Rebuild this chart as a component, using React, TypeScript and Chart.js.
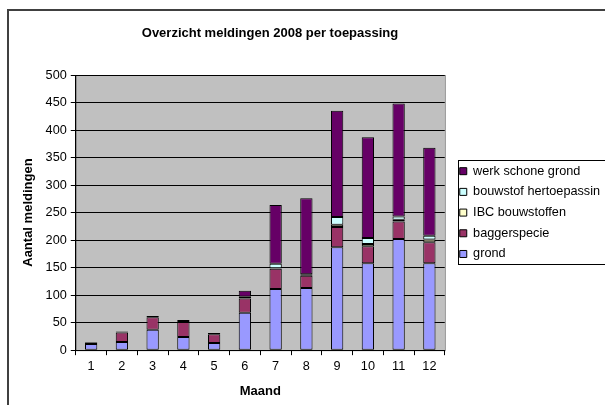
import React, { useEffect, useRef } from "react";
import { Chart, registerables } from "chart.js";

Chart.register(...registerables);

const months = ["1", "2", "3", "4", "5", "6", "7", "8", "9", "10", "11", "12"];
const grond = [11, 15, 37, 24, 13, 68, 111, 113, 187, 158, 202, 158];
const baggerspecie = [3, 17, 23, 27, 16, 26, 37, 22, 37, 31, 32, 38];
const ibcBouwstoffen = [0, 0, 0, 0, 0, 0, 1, 0, 4, 4, 3, 5];
const bouwstofHertoepassing = [0, 0, 0, 0, 0, 3, 8, 3, 14, 11, 6, 7];
const werkSchoneGrond = [1, 2, 2, 4, 2, 11, 107, 138, 193, 183, 205, 160];
const chartTitle = "Overzicht meldingen 2008 per toepassing";

const FONT = "'Liberation Sans', Arial, sans-serif";

const framePlugin = {
  id: "frame",
  afterLayout(chart: any) {
    const lg = chart.legend;
    if (lg) {
      lg.left += 7;
      lg.right = 600;
      lg.width = lg.right - lg.left;
    }
  },
  beforeDraw(chart: any) {
    const { ctx, chartArea } = chart;
    ctx.save();
    ctx.fillStyle = "#ffffff";
    ctx.fillRect(0, 0, chart.width, chart.height);
    ctx.fillStyle = "#C0C0C0";
    ctx.fillRect(chartArea.left, chartArea.top, chartArea.right - chartArea.left, chartArea.bottom - chartArea.top);
    ctx.strokeStyle = "#808080";
    ctx.lineWidth = 1;
    ctx.strokeRect(chartArea.left + 0.5, chartArea.top + 0.5, chartArea.right - chartArea.left, chartArea.bottom - chartArea.top);
    ctx.strokeStyle = "#404040";
    ctx.lineWidth = 2;
    ctx.beginPath();
    ctx.moveTo(8, chart.height + 5);
    ctx.lineTo(8, 10);
    ctx.lineTo(chart.width + 5, 10);
    ctx.stroke();
    ctx.restore();
  },
  afterDraw(chart: any) {
    const { ctx } = chart;
    ctx.save();
    ctx.fillStyle = "#000000";
    ctx.font = "bold 13px " + FONT;
    ctx.textAlign = "center";
    ctx.textBaseline = "middle";
    ctx.fillText(chartTitle, 270, 33);
    const lg = chart.legend;
    if (lg && lg.legendHitBoxes && lg.legendHitBoxes.length) {
      const boxes = lg.legendHitBoxes;
      const first = boxes[0];
      const last = boxes[boxes.length - 1];
      const l = Math.round(first.left - 2);
      const t = Math.round(first.top + first.height / 2 - 11);
      const b = Math.round(last.top + last.height / 2 + 10);
      ctx.strokeStyle = "#000000";
      ctx.lineWidth = 1;
      ctx.strokeRect(l + 0.5, t + 0.5, chart.width - l + 5, b - t);
    }
    ctx.restore();
  },
};

export default function App() {
  const ref = useRef<HTMLCanvasElement>(null);
  useEffect(() => {
    if (!ref.current) return;
    const mk = (label: string, data: number[], color: string) => ({
      label,
      data,
      backgroundColor: color,
      borderColor: "#000000",
      borderWidth: 1,
      borderSkipped: false,
      barPercentage: 0.4,
      categoryPercentage: 1,
    });
    const chart = new Chart(ref.current, {
      type: "bar",
      data: {
        labels: months,
        datasets: [
          mk("grond", grond, "#9999FF"),
          mk("baggerspecie", baggerspecie, "#993366"),
          mk("IBC bouwstoffen", ibcBouwstoffen, "#FFFFCC"),
          mk("bouwstof hertoepassing", bouwstofHertoepassing, "#CCFFFF"),
          mk("werk schone grond", werkSchoneGrond, "#660066"),
        ] as any,
      },
      options: {
        animation: false,
        responsive: false,
        layout: { padding: { left: 21, right: 19, top: 75, bottom: 6 } },
        plugins: {
          title: { display: false },
          legend: {
            position: "right",
            fullSize: false,
            reverse: true,
            labels: {
              color: "#000000",
              font: { family: FONT, size: 12.7 },
              boxWidth: 7,
              boxHeight: 7,
              padding: 8,
            },
          },
          tooltip: { enabled: false },
        },
        scales: {
          x: {
            stacked: true,
            grid: { display: true, drawOnChartArea: false, color: "#000000", tickLength: 5, offset: true },
            border: { color: "#000000" },
            ticks: { color: "#000000", font: { family: FONT, size: 12.7 }, padding: 4 },
            title: { display: true, text: "Maand", color: "#000000", font: { family: FONT, size: 13, weight: "bold" }, padding: { top: 5, bottom: 0 } },
          },
          y: {
            stacked: true,
            min: 0,
            max: 500,
            grid: { color: "#000000", tickLength: 5 },
            border: { color: "#000000" },
            ticks: { stepSize: 50, color: "#000000", font: { family: FONT, size: 12.7 }, padding: 4 },
            title: { display: true, text: "Aantal meldingen", color: "#000000", font: { family: FONT, size: 13, weight: "bold" }, padding: { top: 0, bottom: 5 } },
          },
        },
      },
      plugins: [framePlugin],
    } as any);
    return () => chart.destroy();
  }, []);
  return (
    <div style={{ position: "absolute", left: 0, top: 0, width: 605, height: 405 }}>
      <canvas ref={ref} width={605} height={405} />
    </div>
  );
}
